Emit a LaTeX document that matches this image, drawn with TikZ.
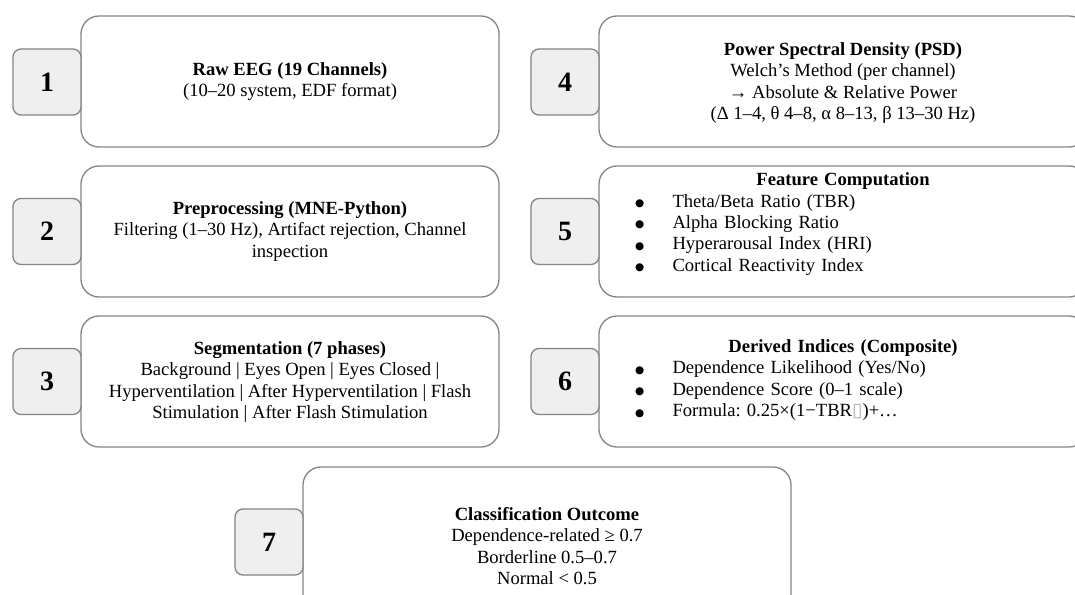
\documentclass[tikz,border=0pt]{standalone}
\usepackage{fontspec}
\setmainfont{Liberation Serif}
\newfontfamily\symfont{DejaVu Sans}
\definecolor{edge}{HTML}{858585}
\definecolor{tabfill}{HTML}{EFEFEF}
\frenchspacing
% one bullet line of a stage list
\newcommand\stageitem[1]{\hspace*{36pt}\makebox[37.5pt][l]{\raisebox{0.5pt}{\symfont\fontsize{10.5}{10.5}\selectfont ●}}#1}
\begin{document}
\begin{tikzpicture}[x=1pt,y=-1pt,
  stage/.style={draw=edge, line width=1.3pt, rounded corners=18pt, fill=white, inner sep=0pt},
  lstage/.style={stage, minimum width=418pt, minimum height=131pt},
  rstage/.style={stage, minimum width=488pt, minimum height=131pt},
  tab/.style={draw=edge, line width=1.3pt, rounded corners=8pt, fill=tabfill,
    minimum width=68pt, minimum height=66pt, inner sep=0pt,
    font=\fontsize{28}{32}\selectfont\bfseries},
  txt/.style={inner sep=0pt, align=center, font=\fontsize{18.6}{21.4}\selectfont},
  listtxt/.style={inner sep=0pt, align=left, text width=488pt, font=\fontsize{18.6}{21.4}\selectfont},
]
\useasboundingbox (0,0) rectangle (1075,594);
\fill[white] (0,0) rectangle (1075,594);
\clip (0,0) rectangle (1075,594);

% stage boxes
\node[lstage] (s1) at (290,81.5) {};
\node[lstage] (s2) at (290,231.5) {};
\node[lstage] (s3) at (290,381.5) {};
\node[rstage] (s4) at (843,81.5) {};
\node[rstage] (s5) at (843,231.5) {};
\node[rstage] (s6) at (843,381.5) {};
\node[stage, minimum width=488pt, minimum height=150pt] (s7) at (547,542) {};

% step numbers
\node[tab] (n1) at (47,82) {1};
\node[tab] (n2) at (47,231.5) {2};
\node[tab] (n3) at (47,381.5) {3};
\node[tab] (n4) at (565,82) {4};
\node[tab] (n5) at (565,231.5) {5};
\node[tab] (n6) at (565,381.5) {6};
\node[tab] (n7) at (269,542) {7};

% stage texts
\node[txt] (t1) at (290,81.5) {\textbf{Raw EEG (19 Channels)}\\(10–20 system, EDF format)};
\node[txt] (t2) at (290,231.5) {\textbf{Preprocessing (MNE-Python)}\\Filtering (1–30 Hz), Artifact rejection, Channel\\inspection};
\node[txt] (t3) at (290,382) {\textbf{Segmentation (7 phases)}\\Background | Eyes Open | Eyes Closed |\\Hyperventilation | After Hyperventilation | Flash\\Stimulation | After Flash Stimulation};
\node[txt] (t4) at (843,83) {\textbf{Power Spectral Density (PSD)}\\Welch’s Method (per channel)\\→ Absolute \& Relative Power\\(Δ 1–4, θ 4–8, α 8–13, β 13–30 Hz)};
\node[listtxt] (t5) at (843,224) {\makebox[488pt]{\bfseries Feature Computation}\\
  \stageitem{Theta/Beta Ratio (TBR)}\\
  \stageitem{Alpha Blocking Ratio}\\
  \stageitem{Hyperarousal Index (HRI)}\\
  \stageitem{Cortical Reactivity Index}};
\node[listtxt] (t6) at (843,380) {\makebox[488pt]{\bfseries Derived Indices (Composite)}\\
  \stageitem{Dependence Likelihood (Yes/No)}\\
  \stageitem{Dependence Score (0–1 scale)}\\
  \stageitem{Formula: 0.25×(1−TBR{\symfont\color{gray!60}\fontsize{19}{19}\selectfont ▯})+…}};
\node[txt] (t7) at (547,546) {\textbf{Classification Outcome}\\Dependence-related ≥ 0.7\\Borderline 0.5–0.7\\Normal < 0.5};
\end{tikzpicture}
\end{document}
